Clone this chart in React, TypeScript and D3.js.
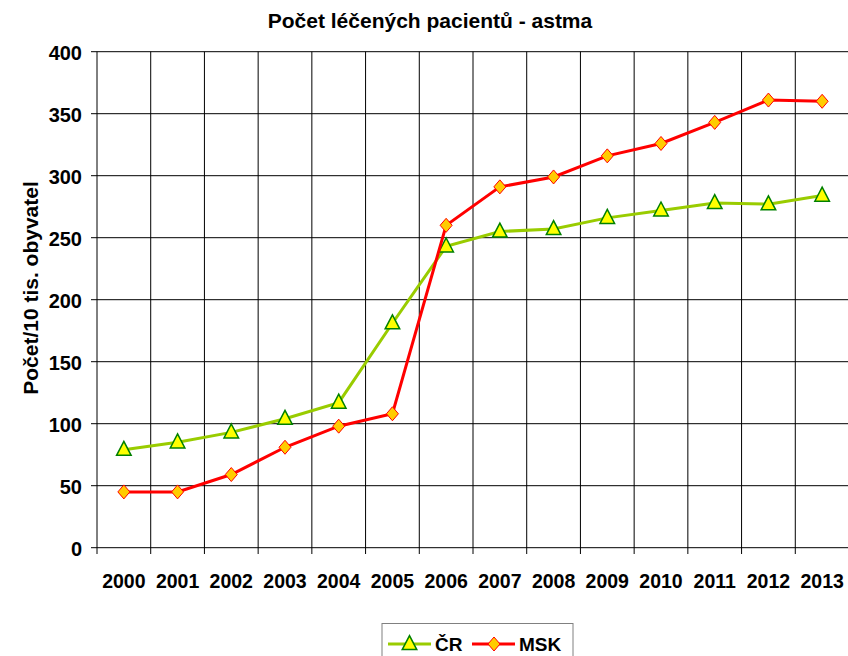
import React, { useEffect, useRef } from 'react';
import * as d3 from 'd3';

const years = ['2000', '2001', '2002', '2003', '2004', '2005', '2006', '2007', '2008', '2009', '2010', '2011', '2012', '2013'];
const crValues = [79, 85, 93, 104, 117, 181, 243, 255, 257, 266, 272, 278, 277, 284];
const mskValues = [45, 45, 59, 81, 98, 108, 260, 291, 299, 316, 326, 343, 361, 360];
const yTicks = [0, 50, 100, 150, 200, 250, 300, 350, 400];

const FONT = '"Liberation Sans", Arial, sans-serif';

const triangle = (s: number) => `M0,${-s * 0.6}L${s * 0.52},${s * 0.4}L${-s * 0.52},${s * 0.4}Z`;
const diamond = (w: number, h: number) => `M0,${-h}L${w},0L0,${h}L${-w},0Z`;

export default function App() {
  const ref = useRef<SVGSVGElement>(null);

  useEffect(() => {
    const svg = d3.select(ref.current);
    svg.selectAll('*').remove();

    const x = d3.scaleBand<string>().domain(years).range([97, 849]);
    const y = d3.scaleLinear().domain([0, 400]).range([547.7, 51.7]);
    const cx = (d: string) => (x(d) as number) + x.bandwidth() / 2;

    svg.append('rect').attr('width', 848).attr('height', 656).attr('fill', '#ffffff');

    // horizontal gridlines
    svg.append('g')
      .selectAll('line')
      .data(yTicks)
      .join('line')
      .attr('x1', 97)
      .attr('x2', 848)
      .attr('y1', d => y(d))
      .attr('y2', d => y(d))
      .attr('stroke', '#000')
      .attr('stroke-width', 1);

    // y tick marks
    svg.append('g')
      .selectAll('line')
      .data(yTicks)
      .join('line')
      .attr('x1', 91)
      .attr('x2', 97)
      .attr('y1', d => y(d))
      .attr('y2', d => y(d))
      .attr('stroke', '#000');

    // vertical gridlines / x ticks at category boundaries
    const bounds = years.map(d => x(d) as number).concat([849]);
    svg.append('g')
      .selectAll('line')
      .data(bounds)
      .join('line')
      .attr('x1', d => d)
      .attr('x2', d => d)
      .attr('y1', 51.7)
      .attr('y2', 554)
      .attr('stroke', '#000')
      .attr('stroke-width', 1);

    // y tick labels
    svg.append('g')
      .selectAll('text')
      .data(yTicks)
      .join('text')
      .attr('x', 82)
      .attr('y', d => y(d) + 8)
      .attr('text-anchor', 'end')
      .attr('font-family', FONT)
      .attr('font-weight', 'bold')
      .attr('font-size', '20px')
      .text(d => d);

    // x tick labels
    svg.append('g')
      .selectAll('text')
      .data(years)
      .join('text')
      .attr('x', d => cx(d))
      .attr('y', 588)
      .attr('text-anchor', 'middle')
      .attr('font-family', FONT)
      .attr('font-weight', 'bold')
      .attr('font-size', '19.5px')
      .text(d => d);

    // title
    svg.append('text')
      .attr('x', 430)
      .attr('y', 27.5)
      .attr('text-anchor', 'middle')
      .attr('font-family', FONT)
      .attr('font-weight', 'bold')
      .attr('font-size', '21px')
      .text('Počet léčených pacientů - astma');

    // y axis title
    svg.append('text')
      .attr('transform', 'translate(38, 288) rotate(-90)')
      .attr('text-anchor', 'middle')
      .attr('font-family', FONT)
      .attr('font-weight', 'bold')
      .attr('font-size', '21px')
      .text('Počet/10 tis. obyvatel');

    const line = d3.line<number>()
      .x((_, i) => cx(years[i]))
      .y(d => y(d));

    // ČR
    svg.append('path')
      .datum(crValues)
      .attr('fill', 'none')
      .attr('stroke', '#99cc00')
      .attr('stroke-width', 3)
      .attr('d', line);
    svg.append('g')
      .selectAll('path')
      .data(crValues)
      .join('path')
      .attr('transform', (d, i) => `translate(${cx(years[i])}, ${y(d)})`)
      .attr('d', triangle(14))
      .attr('fill', '#ffff00')
      .attr('stroke', '#008000')
      .attr('stroke-width', 1.5);

    // MSK
    svg.append('path')
      .datum(mskValues)
      .attr('fill', 'none')
      .attr('stroke', '#ff0000')
      .attr('stroke-width', 3)
      .attr('d', line);
    svg.append('g')
      .selectAll('path')
      .data(mskValues)
      .join('path')
      .attr('transform', (d, i) => `translate(${cx(years[i])}, ${y(d)})`)
      .attr('d', diamond(6, 7))
      .attr('fill', '#ffcc00')
      .attr('stroke', '#ff0000')
      .attr('stroke-width', 1);

    // legend
    const lg = svg.append('g');
    lg.append('rect')
      .attr('x', 382)
      .attr('y', 623.5)
      .attr('width', 191)
      .attr('height', 40)
      .attr('fill', '#fff')
      .attr('stroke', '#808080')
      .attr('stroke-width', 1);
    lg.append('line').attr('x1', 388).attr('x2', 431).attr('y1', 644).attr('y2', 644)
      .attr('stroke', '#99cc00').attr('stroke-width', 3);
    lg.append('path').attr('transform', 'translate(409.5, 644)').attr('d', triangle(14))
      .attr('fill', '#ffff00').attr('stroke', '#008000').attr('stroke-width', 1.5);
    lg.append('text').attr('x', 435).attr('y', 650.5)
      .attr('font-family', FONT).attr('font-weight', 'bold').attr('font-size', '19px').text('ČR');
    lg.append('line').attr('x1', 472).attr('x2', 515).attr('y1', 644).attr('y2', 644)
      .attr('stroke', '#ff0000').attr('stroke-width', 3);
    lg.append('path').attr('transform', 'translate(494, 644)').attr('d', diamond(6, 7))
      .attr('fill', '#ffcc00').attr('stroke', '#ff0000').attr('stroke-width', 1);
    lg.append('text').attr('x', 519).attr('y', 650.5)
      .attr('font-family', FONT).attr('font-weight', 'bold').attr('font-size', '19px').text('MSK');
  }, []);

  return (
    <svg
      ref={ref}
      width={848}
      height={656}
      style={{ position: 'absolute', left: 0, top: 0, display: 'block' }}
    />
  );
}
